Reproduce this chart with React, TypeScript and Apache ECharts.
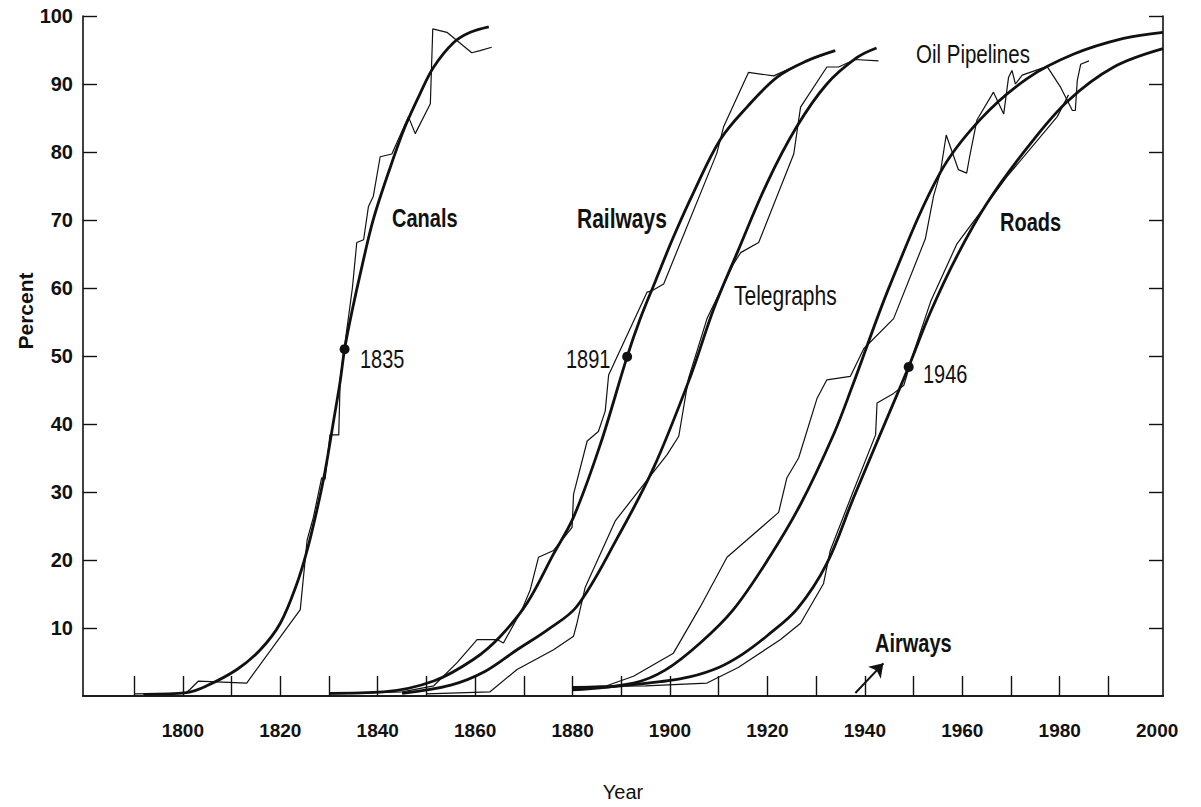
import React, { useEffect, useRef } from "react";
import * as echarts from "echarts";

const FONT = "'Liberation Sans', Arial, Helvetica, sans-serif";
const INK = "#111111";

const X_MIN = 1779.5;
const X_MAX = 2001.2;
const xTickYears = [1790, 1800, 1810, 1820, 1830, 1840, 1850, 1860, 1870, 1880, 1890, 1900, 1910, 1920, 1930, 1940, 1950, 1960, 1970, 1980, 1990];
const xLabelYears = [1800, 1820, 1840, 1860, 1880, 1900, 1920, 1940, 1960, 1980, 2000];
const yLabelValues = [10, 20, 30, 40, 50, 60, 70, 80, 90, 100];

// Fitted logistic curves (thick): [year, percent]
const canalsFit = [[1791.9, 0.25], [1800.8, 0.5], [1804.9, 1.5], [1811.1, 3.9], [1815.9, 6.8], [1820, 10.7], [1823.4, 16.5], [1825.5, 21.4], [1827.5, 27.3], [1829.2, 33.1], [1830.9, 40.3], [1832.3, 46.3], [1833.2, 51], [1834.7, 56.5], [1836.8, 63.3], [1839.1, 70.1], [1842.6, 77.8], [1845.6, 83.7], [1848.7, 88.6], [1851.5, 92.5], [1855.6, 96.1], [1859, 97.6], [1862.8, 98.4]];
const railwaysFit = [[1830, 0.4], [1841.2, 0.6], [1851.5, 2.2], [1859.7, 5.4], [1865.2, 8.8], [1870.6, 13.6], [1876.1, 20.9], [1880.2, 26.3], [1885.7, 37], [1891.2, 49.9], [1893.9, 55.5], [1897, 61], [1900.7, 67.5], [1904.8, 74], [1910.3, 81.8], [1915.8, 86.6], [1922, 91], [1928.1, 93.4], [1933.9, 94.9]];
const telegraphsFit = [[1845, 0.4], [1855, 1.6], [1862, 3.6], [1868.6, 6.8], [1875, 9.8], [1880.9, 13.2], [1889, 23], [1896.6, 33.5], [1904.2, 47], [1909, 57], [1913.8, 65.2], [1919.9, 75.4], [1926, 83.7], [1932.2, 90], [1938.4, 93.9], [1942.4, 95.3]];
const pipelinesFit = [[1880, 0.9], [1892.5, 1.9], [1899, 3.8], [1906.2, 7.8], [1913, 12.7], [1920.4, 20.4], [1926.8, 28.2], [1933.6, 38.5], [1937.4, 45.5], [1945.2, 60.5], [1955.5, 77], [1963.7, 84.8], [1973.3, 90.8], [1982.9, 94.4], [1993.1, 96.7], [2001.2, 97.6]];
const roadsFit = [[1880, 1.1], [1890, 1.5], [1898, 2.1], [1904, 2.8], [1910, 4.2], [1915, 6.2], [1920, 8.9], [1926.2, 12.9], [1932.2, 19.5], [1937.7, 29.2], [1947.3, 45.5], [1949, 48.4], [1953.5, 56.5], [1958.9, 64.7], [1965.1, 72.5], [1973.3, 80.6], [1981.5, 87.4], [1991.1, 92.5], [2001.2, 95.2]];

const canalsData = [[1790, 0.3], [1800.5, 0.4], [1801.5, 1.0], [1803.2, 2.2], [1813.1, 1.9], [1824.1, 12.7], [1825.5, 22.9], [1826.8, 26.3], [1828.5, 32.1], [1829.2, 31.9], [1830.2, 38.4], [1832, 38.4], [1832.3, 46.7], [1833.3, 52], [1834.8, 60], [1835.7, 66.7], [1837.1, 67.1], [1838.1, 72], [1839.1, 73.5], [1840.5, 79.3], [1842.9, 79.7], [1846.3, 85.2], [1847.7, 82.7], [1850.8, 87.1], [1851.3, 98.1], [1854.2, 97.6], [1859.3, 94.6], [1861, 94.9], [1863.4, 95.4]];
const railwaysData = [[1830, 0.3], [1845, 0.6], [1851.5, 1.5], [1856.3, 4.9], [1860.4, 8.3], [1864.5, 8.3], [1865.8, 7.8], [1869.6, 12.7], [1871.3, 15.6], [1873, 20.4], [1876.1, 21.4], [1878.8, 23.8], [1879.9, 24.8], [1880.2, 29.7], [1883, 37.5], [1885.3, 38.9], [1886.7, 41.9], [1887.4, 47.2], [1895.3, 59.4], [1896.3, 59.6], [1898.7, 60.6], [1909.6, 79.8], [1911, 83.7], [1916.1, 91.7], [1921.3, 91.2], [1928.1, 93.4], [1933.9, 94.9]];
const telegraphsData = [[1850, 0.3], [1863, 0.6], [1868.6, 3.9], [1876.1, 6.8], [1880.2, 8.8], [1880.9, 10.7], [1882.6, 16], [1888.8, 25.8], [1899.4, 35.5], [1901.8, 38.2], [1903.8, 46.7], [1907.6, 55.5], [1913, 63.5], [1914.5, 65.2], [1918.2, 66.7], [1925.4, 79.7], [1926.8, 86.6], [1932.2, 92.5], [1934.6, 92.5], [1938, 93.6], [1942.8, 93.4]];
const pipelinesData = [[1880, 1.3], [1887, 1.5], [1892.5, 2.9], [1900.7, 6.3], [1906.2, 13.1], [1911.7, 20.4], [1922.3, 27], [1924, 32.1], [1926.4, 35], [1930.2, 43.8], [1932.2, 46.5], [1937, 47], [1939.8, 51.1], [1945.9, 55.5], [1952.4, 67.2], [1954.1, 73.5], [1955.5, 77], [1956.7, 82.5], [1959.2, 77.4], [1960.9, 76.9], [1961.5, 79.3], [1963, 84.7], [1966.4, 88.8], [1968.5, 85.6], [1969.5, 91], [1970.2, 92], [1970.9, 90], [1972.3, 91.3], [1977.4, 92.6], [1980.2, 89.5], [1982.6, 86.1], [1983.2, 86.1], [1983.6, 90.5], [1984.3, 92.9], [1986, 93.4]];
const roadsData = [[1880, 1.4], [1895, 1.5], [1907.6, 1.9], [1914, 4.2], [1922.7, 8.3], [1926.8, 10.7], [1931.5, 16.5], [1932.9, 21.4], [1937.4, 29.7], [1942.2, 38.4], [1942.5, 43.1], [1945.9, 44.5], [1948, 45.7], [1950, 50.5], [1953.5, 58], [1958.9, 66.5], [1969.2, 76.4], [1979.5, 85.2], [1981.8, 88.4]];

// Half-way points marked on the fitted curves
const midpointDots = [[1833.2, 51], [1891.2, 49.9], [1949, 48.4]];
const airwaysArrow = [[1938.05, 0.44], [1943.8, 4.8]];

export default function App() {
  const ref = useRef<HTMLDivElement>(null);

  useEffect(() => {
    if (!ref.current) return;
    const chart = echarts.init(ref.current, undefined, { renderer: "svg" });

    const thick = (name: string, data: number[][]) => ({
      name, type: "line", data, smooth: 0.35, showSymbol: false, symbol: "none",
      lineStyle: { color: INK, width: 2.8 }, z: 3,
    });
    const thin = (name: string, data: number[][]) => ({
      name, type: "line", data, smooth: false, showSymbol: false, symbol: "none",
      lineStyle: { color: INK, width: 1.2 }, z: 2,
    });

    const txt = (text: string, x: number, y: number, size: number, bold: boolean) => ({
      type: "text", x, y, scaleY: 1.3,
      style: { text, fontSize: size, fontWeight: bold ? "bold" : "normal", fontFamily: FONT, fill: INK, align: "left", verticalAlign: "middle" },
    });

    chart.setOption({
      animation: false,
      backgroundColor: "#ffffff",
      grid: { left: 83, top: 16, width: 1080, height: 684, containLabel: false },
      xAxis: [
        {
          type: "value", min: X_MIN, max: X_MAX, position: "bottom",
          axisLine: { show: true, lineStyle: { color: INK, width: 1.6 } },
          axisTick: { show: true, inside: true, length: 20, lineStyle: { color: INK, width: 1.4 }, customValues: xTickYears },
          axisLabel: {
            show: true, customValues: xLabelYears, formatter: (v: number) => String(Math.round(v)),
            color: INK, fontFamily: FONT, fontWeight: "bold", fontSize: 19, margin: 25,
          },
          splitLine: { show: false },
          name: "Year", nameLocation: "middle", nameGap: 86,
          nameTextStyle: { color: INK, fontFamily: FONT, fontSize: 20, fontWeight: "normal" },
        },
        {
          type: "value", min: X_MIN, max: X_MAX, position: "top",
          axisLine: { show: true, lineStyle: { color: INK, width: 1.6 } },
          axisTick: { show: false }, axisLabel: { show: false }, splitLine: { show: false },
        },
      ],
      yAxis: [
        {
          type: "value", min: 0, max: 100, position: "left",
          axisLine: { show: true, lineStyle: { color: INK, width: 1.6 } },
          axisTick: { show: true, inside: true, length: 14, lineStyle: { color: INK, width: 1.4 }, customValues: yLabelValues },
          axisLabel: {
            show: true, customValues: yLabelValues, formatter: (v: number) => String(Math.round(v)),
            color: INK, fontFamily: FONT, fontWeight: "bold", fontSize: 20, margin: 10,
          },
          splitLine: { show: false },
        },
        {
          type: "value", min: 0, max: 100, position: "right",
          axisLine: { show: true, lineStyle: { color: INK, width: 1.6 } },
          axisTick: { show: true, inside: true, length: 14, lineStyle: { color: INK, width: 1.4 }, customValues: yLabelValues },
          axisLabel: { show: false }, splitLine: { show: false },
        },
      ],
      series: [
        thin("Canals data", canalsData),
        thin("Railways data", railwaysData),
        thin("Telegraphs data", telegraphsData),
        thin("Oil Pipelines data", pipelinesData),
        thin("Roads data", roadsData),
        thick("Canals", canalsFit),
        thick("Railways", railwaysFit),
        thick("Telegraphs", telegraphsFit),
        thick("Oil Pipelines", pipelinesFit),
        thick("Roads", roadsFit),
        {
          name: "Midpoints", type: "scatter", data: midpointDots, symbol: "circle", symbolSize: 10,
          itemStyle: { color: INK, opacity: 1 }, z: 5,
          markLine: {
            silent: true, symbol: ["none", "arrow"], symbolSize: 13,
            lineStyle: { color: INK, width: 2, type: "solid", opacity: 1 },
            label: { show: false },
            data: [[{ coord: airwaysArrow[0] }, { coord: airwaysArrow[1] }]],
          },
        },
      ],
      graphic: [
        txt("Canals", 392, 218, 20, true),
        txt("Railways", 577, 218, 21, true),
        txt("Telegraphs", 734, 295, 21, false),
        txt("Oil Pipelines", 916, 53, 20.5, false),
        txt("Roads", 1000, 222, 20, true),
        txt("Airways", 875, 643, 20, true),
        txt("1835", 360, 359, 20, false),
        txt("1891", 566, 359, 20, false),
        txt("1946", 923, 374, 20, false),
        {
          type: "text", x: 25, y: 311, rotation: Math.PI / 2,
          style: { text: "Percent", fontSize: 21, fontWeight: "bold", fontFamily: FONT, fill: INK, align: "center", verticalAlign: "middle" },
        },
      ],
    });

    return () => chart.dispose();
  }, []);

  return (
    <div
      ref={ref}
      style={{ position: "fixed", left: 0, top: 0, width: 1201, height: 807, background: "#fff" }}
    />
  );
}
